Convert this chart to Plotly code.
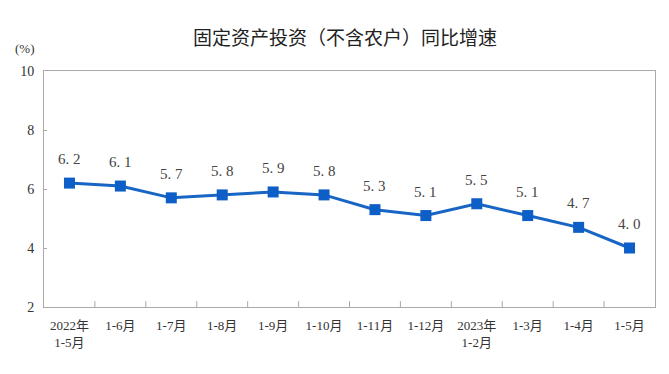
import plotly.graph_objects as go

categories = ["2022年<br>1-5月", "1-6月", "1-7月", "1-8月", "1-9月", "1-10月",
              "1-11月", "1-12月", "2023年<br>1-2月", "1-3月", "1-4月", "1-5月"]
values = [6.2, 6.1, 5.7, 5.8, 5.9, 5.8, 5.3, 5.1, 5.5, 5.1, 4.7, 4.0]
y_ticks = [2, 4, 6, 8, 10]
title_text = "固定资产投资（不含农户）同比增速"
unit_text = "(%)"

x_idx = list(range(len(categories)))
serif = "Liberation Serif, Noto Sans CJK SC, serif"

fig = go.Figure()
fig.add_trace(go.Scatter(
    x=x_idx, y=values, mode="lines+markers",
    line=dict(color="#1765c4", width=3),
    marker=dict(symbol="square", size=11, color="#0d5ec6"),
    showlegend=False, cliponaxis=False,
))

for xi, v in zip(x_idx, values):
    fig.add_annotation(x=xi, y=v, text=f"{v:.1f}".replace(".", ". "),
                       showarrow=False, yshift=24, yanchor="middle",
                       font=dict(family=serif, size=15, color="#444444"))

fig.update_layout(
    width=661, height=366,
    margin=dict(l=30, r=14, t=63, b=67),
    paper_bgcolor="white", plot_bgcolor="white",
    title=dict(text=title_text, x=0.51, xanchor="center", y=0.918, yanchor="middle",
               font=dict(family="Noto Sans CJK SC", size=19, color="#222222")),
    xaxis=dict(
        range=[-0.5, len(categories) - 0.5],
        tickmode="array", tickvals=x_idx, ticktext=categories,
        showgrid=False, zeroline=False,
        showline=True, linecolor="#aaaaaa", linewidth=1, mirror=True,
        ticks="", ticklabelstandoff=6,
        tickfont=dict(family=serif, size=13, color="#333333"),
        fixedrange=True,
    ),
    yaxis=dict(
        range=[2, 10], tickvals=y_ticks,
        showgrid=False, zeroline=False,
        showline=True, linecolor="#aaaaaa", linewidth=1, mirror=True,
        ticks="inside", ticklen=3, tickcolor="#aaaaaa", ticklabelstandoff=6,
        tickfont=dict(family=serif, size=14, color="#333333"),
        fixedrange=True,
    ),
)

shapes = []
for i in range(1, len(categories)):
    shapes.append(dict(type="line", xref="x", yref="paper", x0=i - 0.5, x1=i - 0.5,
                       y0=0, y1=0.025, line=dict(color="#aaaaaa", width=1)))
fig.update_layout(shapes=shapes)

fig.add_annotation(text=unit_text, xref="paper", yref="paper", x=-0.05, y=1.097,
                   xanchor="left", yanchor="middle", showarrow=False,
                   font=dict(family=serif, size=13, color="#333333"))

fig.write_html("out.html")
